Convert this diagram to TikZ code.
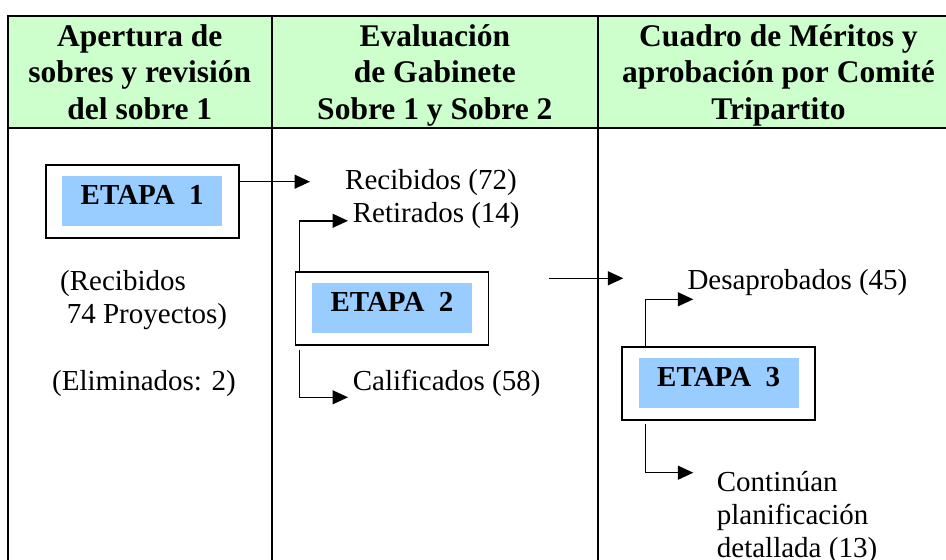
\documentclass[tikz,border=0pt]{standalone}
\usepackage{fontspec}
\setmainfont{Liberation Serif}
\usetikzlibrary{arrows.meta}
\definecolor{headgreen}{HTML}{CCFFCC}
\definecolor{etapablue}{HTML}{99CCFF}
\begin{document}
\begin{tikzpicture}
                [x=1pt, y=-1pt,
                headtext/.style={align=center, inner sep=0pt, anchor=base, font=\fontsize{31.5}{36.5}\selectfont\bfseries},
                bodytext/.style={align=left, inner sep=0pt, anchor=base west, font=\fontsize{29}{32.6}\selectfont},
                etapabox/.style={draw=black, line width=1.8pt, minimum width=193pt, minimum height=73pt, inner sep=0pt},
                etapanode/.style={fill=etapablue, minimum width=160pt, minimum height=50pt, inner sep=0pt, text depth=13pt, font=\fontsize{29}{32}\selectfont\bfseries},
                arr/.style={line width=1.4pt, -{Triangle[length=15.5pt,width=14pt]}},
                gridline/.style={line width=2pt}]

                \useasboundingbox (0,0) rectangle (946,560);

                % table
                \fill[headgreen] (7.5,16) rectangle (960,127.5);
                \draw[gridline] (960,16) -- (7.5,16) -- (7.5,580);
                \draw[gridline] (7.5,127.5) -- (960,127.5);
                \draw[gridline] (272,16) -- (272,580);
                \draw[gridline] (597.6,16) -- (597.6,580);

                % last line on the baseline
                \node[headtext] (h1) at (139.8,119) {Apertura de\\sobres y revisión\\del sobre 1};
                \node[headtext] (h2) at (434.8,119) {Evaluación\\de Gabinete\\Sobre 1 y Sobre 2};
                \node[headtext] (h3) at (778.5,119) {Cuadro de Méritos y\\aprobación por Comité\\Tripartito};

                % stages
                \node[etapabox] (e1box) at (142.2,201.2) {};
                \node[etapanode] (e1) at (e1box) {ETAPA~~1};
                \node[etapabox] (e2box) at (392,308.4) {};
                \node[etapanode] (e2) at (e2box) {ETAPA~~2};
                \node[etapabox] (e3box) at (718.7,383.4) {};
                \node[etapanode] (e3) at (e3box) {ETAPA~~3};

                % texts
                \node[bodytext] (rec) at (60,323.3) {(Recibidos\\\hspace*{6.7pt}74 Proyectos)};
                \node[bodytext] (elim) at (52,390) {(Eliminados: 2)};
                \node[bodytext] (rec72) at (345,189) {Recibidos (72)};
                \node[bodytext] (ret) at (352.7,222.7) {Retirados (14)};
                \node[bodytext] (cal) at (352.7,390.7) {Calificados (58)};
                \node[bodytext] (desap) at (687.3,289.3) {Desaprobados (45)};
                \node[bodytext] (cont) at (716.7,557) {Continúan\\planificación\\detallada (13)};

                \coordinate (rectip) at (310,181.7);
                \coordinate (rettip) at (348,220.8);
                \coordinate (caltip) at (348,397.3);
                \coordinate (midA) at (549.3,278.3);
                \coordinate (midB) at (623.3,278.3);
                \coordinate (destip) at (693.3,299.3);
                \coordinate (contip) at (693.3,472.7);

                \draw[arr] (e1box.east |- rectip) -- (rectip);
                \draw[arr] ([xshift=5pt]e2box.north west) |- (rettip);
                \draw[arr] ([xshift=5pt,yshift=-4pt]e2box.south west) |- (caltip);
                \draw[arr] (midA) -- (midB);
                \draw[arr] ([xshift=24.4pt]e3box.north west) |- (destip);
                \draw[arr] ([xshift=24.4pt,yshift=-2.7pt]e3box.south west) |- (contip);

            \end{tikzpicture}
\end{document}
